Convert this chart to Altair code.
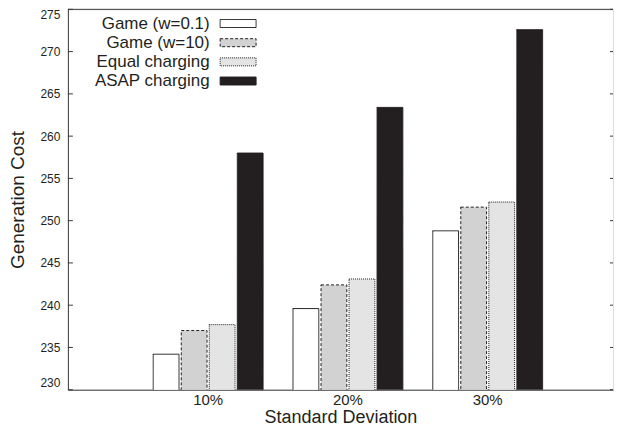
import altair as alt
import pandas as pd

categories = ["10%", "20%", "30%"]
series = ["Game (w=0.1)", "Game (w=10)", "Equal charging", "ASAP charging"]
game_w01 = [234.2, 239.6, 248.8]
game_w10 = [237.0, 242.4, 251.6]
equal_charging = [237.7, 243.1, 252.2]
asap_charging = [258.0, 263.4, 272.6]
y_ticks = [230, 235, 240, 245, 250, 255, 260, 265, 270, 275]

fills = ["#ffffff", "#d2d2d2", "#e4e4e4", "#231f20"]
dashes = [[1, 0], [3, 2], [1, 1], [1, 0]]

rows = []
for name, vals in zip(series, [game_w01, game_w10, equal_charging, asap_charging]):
    for c, v in zip(categories, vals):
        rows.append({"sd": c, "series": name, "cost": v})
df = pd.DataFrame(rows)
ticks_df = pd.DataFrame({"t": y_ticks})
legend_df = pd.DataFrame({"series": series})

W = 546
H = 381
FONT = "Liberation Sans"
INK = "#231f20"
FRAME = "#3a3a3a"
RECT = "M-1,-0.222L1,-0.222L1,0.222L-1,0.222Z"

yscale = alt.Scale(domain=[230, 275], nice=False, zero=False)
fill_scale = alt.Scale(domain=series, range=fills)
dash_scale = alt.Scale(domain=series, range=dashes)

bars = alt.Chart(df).mark_bar(stroke=INK, strokeWidth=1, clip=True).encode(
    x=alt.X("sd:N", sort=categories, title="Standard Deviation",
            scale=alt.Scale(paddingInner=0.214, paddingOuter=0.557, align=0.548),
            axis=alt.Axis(labelAngle=0, ticks=False, tickSize=0, labelPadding=3,
                          labelFontSize=15, titleFontSize=18, titlePadding=1,
                          domainColor=FRAME, titleFontWeight="normal")),
    xOffset=alt.XOffset("series:N", sort=series,
                        scale=alt.Scale(paddingInner=0.08, paddingOuter=0)),
    y=alt.Y("cost:Q", scale=yscale, title="Generation Cost",
            axis=alt.Axis(values=y_ticks, ticks=False, tickSize=0, labelPadding=8,
                          labelFontSize=12, titleFontSize=19, titlePadding=12,
                          labelFlush=True, domainColor=FRAME, grid=False,
                          titleFontWeight="normal")),
    fill=alt.Fill("series:N", sort=series, scale=fill_scale, legend=None),
    strokeDash=alt.StrokeDash("series:N", sort=series, scale=dash_scale, legend=None),
)

left_ticks = alt.Chart(ticks_df).mark_rule(color=FRAME, strokeWidth=1).encode(
    y=alt.Y("t:Q", scale=yscale, axis=None), x=alt.value(0), x2=alt.value(5))
right_ticks = alt.Chart(ticks_df).mark_rule(color=FRAME, strokeWidth=1).encode(
    y=alt.Y("t:Q", scale=yscale, axis=None), x=alt.value(W - 3), x2=alt.value(W))
top_line = alt.Chart(pd.DataFrame({"t": [275]})).mark_rule(color=FRAME, strokeWidth=1).encode(
    y=alt.Y("t:Q", scale=yscale, axis=None), x=alt.value(0), x2=alt.value(W))

ly = alt.Y("series:N", sort=series, axis=None,
           scale=alt.Scale(type="point", domain=series, range=[14.2, 71.8], padding=0))

legend_text = alt.Chart(legend_df).mark_text(
    align="right", baseline="middle", fontSize=17, font=FONT, color=INK
).encode(y=ly, x=alt.value(142), text="series:N")

legend_swatch = alt.Chart(legend_df).mark_point(
    shape=RECT, size=1296, filled=True, stroke=INK, strokeWidth=1, opacity=1
).encode(
    y=ly, x=alt.value(170.5),
    fill=alt.Fill("series:N", sort=series, scale=fill_scale, legend=None),
    strokeDash=alt.StrokeDash("series:N", sort=series, scale=dash_scale, legend=None),
)

chart = alt.layer(
    bars, left_ticks, right_ticks, top_line, legend_text, legend_swatch
).resolve_scale(y="independent").properties(
    width=W, height=H, padding=0
).configure_view(strokeWidth=0, stroke="transparent").configure(
    font=FONT
).configure_axis(
    labelFont=FONT, titleFont=FONT, labelColor=INK, titleColor=INK
)

chart.save("out.html", embed_options={"renderer": "svg", "actions": False})
